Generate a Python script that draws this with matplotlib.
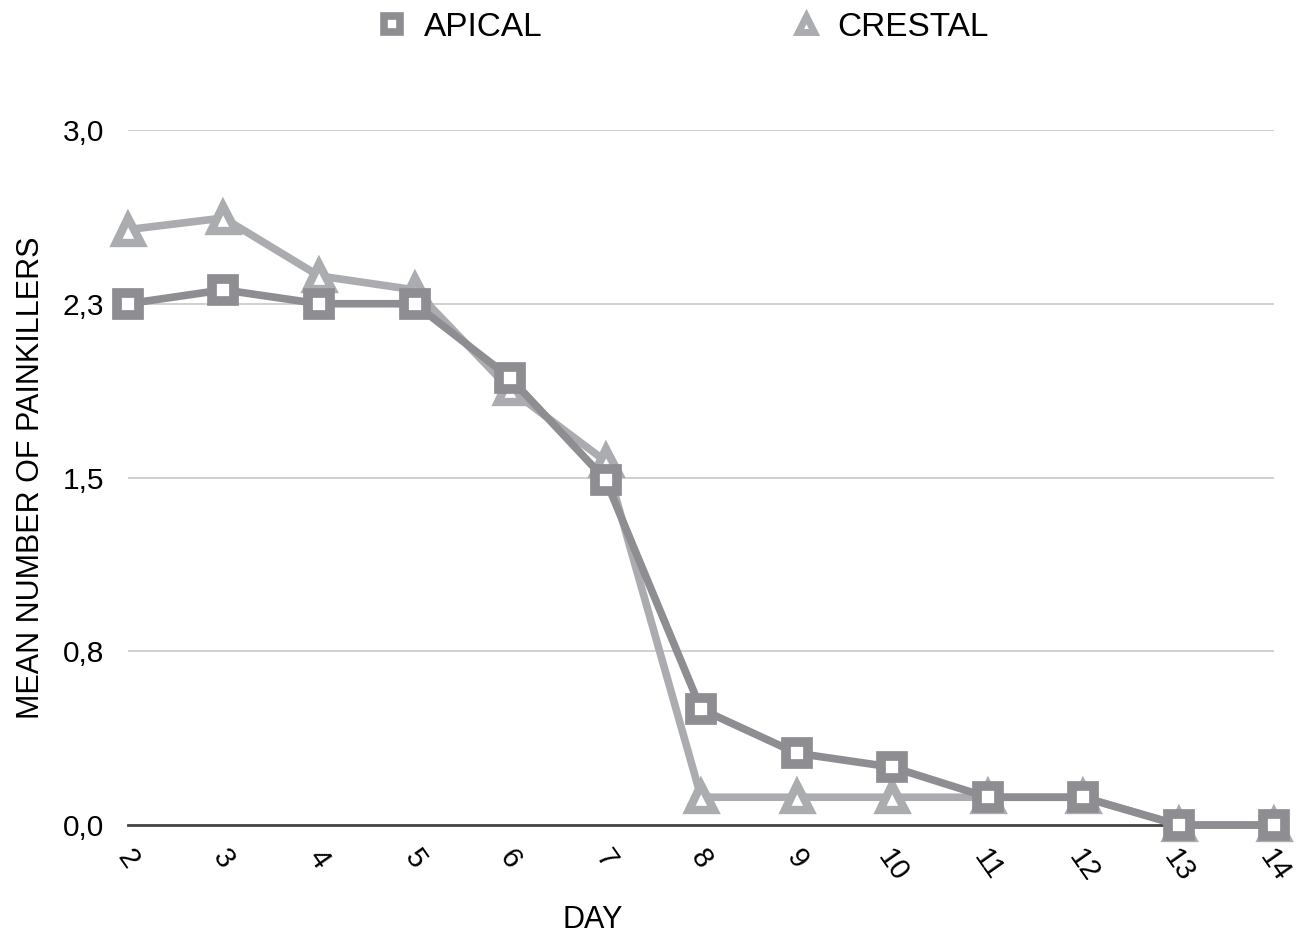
import matplotlib.pyplot as plt
from matplotlib.lines import Line2D

plt.rcParams['font.family'] = ['Liberation Sans', 'DejaVu Sans']

days = [2, 3, 4, 5, 6, 7, 8, 9, 10, 11, 12, 13, 14]
apical = [2.25, 2.31, 2.25, 2.25, 1.93, 1.49, 0.50, 0.31, 0.25, 0.12, 0.12, 0.0, 0.0]
crestal = [2.57, 2.62, 2.37, 2.31, 1.88, 1.57, 0.12, 0.12, 0.12, 0.12, 0.12, 0.0, 0.0]
yticks = [0, 0.75, 1.5, 2.25, 3.0]
ytick_labels = ['0,0', '0,8', '1,5', '2,3', '3,0']

fig = plt.figure(figsize=(12.99, 9.35), dpi=100)
ax = fig.add_axes([0.0985, 0.1176, 0.8825, 0.7434])

c_ap = '#8e8e92'
c_cr = '#abacaf'

ax.plot(days, crestal, color=c_cr, lw=5.5, marker='^', markersize=18,
        markerfacecolor='white', markeredgecolor=c_cr, markeredgewidth=6,
        clip_on=False, zorder=3)
ax.plot(days, apical, color=c_ap, lw=5.5, marker='s', markersize=16,
        markerfacecolor='white', markeredgecolor=c_ap, markeredgewidth=7,
        clip_on=False, zorder=4)

ax.set_xlim(2, 14)
ax.set_ylim(0, 3)
ax.set_xticks(days)
ax.set_xticklabels([str(d) for d in days], rotation=-55, ha='center', va='top', fontsize=21)
ax.set_yticks(yticks)
ax.set_yticklabels(ytick_labels, fontsize=21.5)
ax.tick_params(length=0)
ax.tick_params(axis='x', pad=14)
ax.tick_params(axis='y', pad=17)
ax.grid(axis='y', color='#c8c8c8', lw=1.2)
ax.set_axisbelow(True)
for s in ['top', 'right', 'left']:
    ax.spines[s].set_visible(False)
ax.spines['bottom'].set_color('#444444')
ax.spines['bottom'].set_linewidth(2)
ax.spines['bottom'].set_zorder(2)

ax.set_ylabel('MEAN NUMBER OF PAINKILLERS', fontsize=22, labelpad=12)
fig.text(593 / 1299, 1 - 920 / 935, 'DAY', fontsize=22, ha='center', va='center')

handles = [
    Line2D([], [], ls='none', marker='s', markersize=11, markerfacecolor='white',
           markeredgecolor=c_ap, markeredgewidth=5.5),
    Line2D([], [], ls='none', marker='^', markersize=12, markerfacecolor='white',
           markeredgecolor=c_cr, markeredgewidth=5),
]
fig.legend(handles, ['APICAL', 'CRESTAL'], loc='center', bbox_to_anchor=(0.525, 1 - 27 / 935),
           ncol=2, frameon=False, fontsize=24, columnspacing=7.4, handlelength=1.0,
           handletextpad=0.45)

fig.savefig('out.png', dpi=100)
